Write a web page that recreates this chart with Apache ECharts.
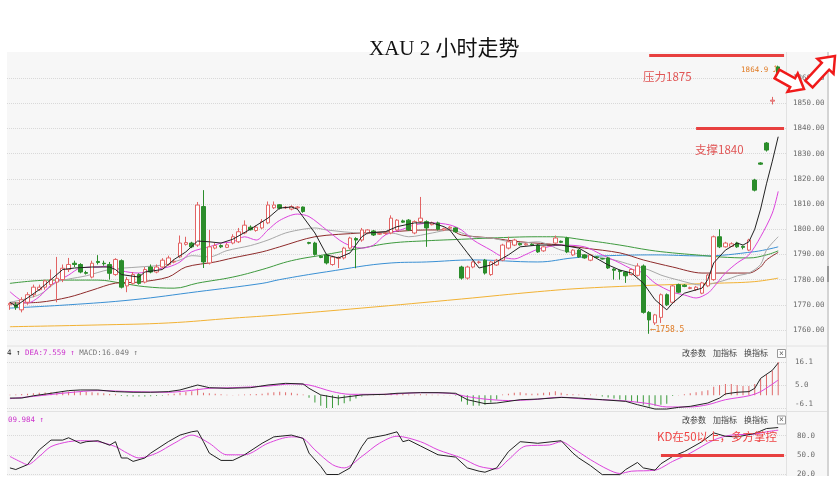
<!DOCTYPE html>
<html><head><meta charset="utf-8">
<script src="https://cdn.jsdelivr.net/npm/echarts@6/dist/echarts.min.js"></script>
<style>html,body{margin:0;padding:0;background:#fff}#c{width:840px;height:491px}</style>
</head><body><div id="c"></div>
<script>
// ---- DATA ----
const categories = Array.from({length: 133}, (_, i) => 'K' + (i + 1));
// [open, close, low, high]
const candles = [
[1770,1770.5,1768,1771],[1770,1769,1768,1771],[1768,1772,1767,1773],[1771,1774,1770,1775],[1774,1777,1773,1778],
[1776,1777,1775.5,1778],[1777,1779.5,1776,1780],[1778,1780,1777,1784],[1779,1780.5,1771,1789],[1780,1784.5,1779,1786],
[1784,1786,1783,1788.6],[1786.5,1786,1785,1787.5],[1786,1783,1782.5,1786.5],[1782.8,1782.5,1782,1783.5],[1781,1786.5,1780.5,1787.5],
[1787.2,1786.8,1786,1789.7],[1786.5,1786.3,1785.5,1787.5],[1786,1782.5,1780,1787],[1782,1788,1781.5,1788.5],[1787.5,1777,1776.5,1788],
[1777.5,1780,1775,1781],[1778.5,1782,1778,1783],[1782,1778.5,1778,1782.5],[1779,1784,1778.5,1785],[1785,1783,1782.5,1786],
[1783,1785,1782.5,1786],[1785,1787.7,1784.5,1788.5],[1786,1788.6,1785.5,1789.5],[1787,1787.3,1786.5,1788],[1789,1794.5,1788.5,1797.5],
[1794,1794.7,1793.5,1797],[1794.5,1793,1792.5,1795],[1793.7,1809.6,1793,1810.8],[1809,1787,1784.6,1815.5],[1786.6,1793,1786,1799.7],
[1792.5,1793.5,1792,1794.5],[1793.5,1793,1792.5,1794],[1792.8,1793.8,1792.5,1794.5],[1794.5,1797,1794,1798],[1795,1799,1794.5,1800.5],
[1798.5,1801.6,1798,1803.5],[1800.8,1799.8,1799.5,1801.5],[1799.5,1800.8,1799,1801.5],[1800.5,1803,1800,1804],[1802.5,1809.6,1802,1811],
[1808.5,1809.6,1808,1811],[1809.7,1808.3,1807.8,1810],[1808.5,1808.7,1808,1809.2],[1808,1809,1807.5,1809.5],[1808.5,1808.8,1808,1809.2],
[1808.8,1807,1806.5,1809],[1794.7,1794.4,1794,1795],[1794.5,1790,1789.5,1795],[1789.3,1788.8,1788.5,1789.6],[1789.8,1786.6,1786,1790.3],
[1786,1789,1785.5,1789.5],[1788.4,1788.8,1784.6,1789.2],[1788.6,1792.5,1788,1793],[1792.5,1796.5,1792,1797],[1796.3,1795.7,1784.5,1796.8],
[1795.7,1799.7,1795,1800.5],[1798.5,1799.7,1798,1800],[1799.3,1797.7,1797.3,1799.7],[1798,1798.3,1797.7,1798.8],[1798.3,1798.5,1797.8,1799],
[1798.5,1804.4,1798,1805.5],[1799.7,1803.6,1799.3,1804],[1803.3,1802.8,1802.5,1803.8],[1803.6,1799.7,1799.3,1804],[1798.5,1803,1798,1803.5],
[1803,1804.4,1802.5,1812.8],[1803,1800.5,1793,1803.5],[1801.8,1802.5,1801.5,1803],[1802.5,1800,1799.5,1803],[1799.7,1800.2,1799.4,1800.6],
[1800.4,1800.8,1800,1801.2],[1800.5,1799,1798.6,1800.8],[1785,1780.6,1780,1785.5],[1780.6,1785,1780,1785.5],[1785,1787,1784.5,1787.5],
[1786.8,1787,1786.3,1787.5],[1787.7,1782.6,1782,1788.2],[1782,1787,1781.5,1787.5],[1785.8,1787.7,1785.4,1788.2],[1787.7,1793.7,1787.3,1794.2],
[1792.5,1795,1792,1797],[1793.7,1795.7,1793.3,1796.2],[1794.3,1793.8,1793.5,1794.7],[1793.8,1794.2,1793.5,1794.6],[1794,1793.7,1793.4,1794.4],
[1793.7,1791,1790.6,1794.1],[1791.4,1793,1791,1793.4],[1793.5,1793.8,1793.2,1794.2],[1794.5,1796.5,1794.2,1797.5],[1795.2,1794.8,1794.5,1795.5],
[1796.5,1791,1790.5,1797],[1789.8,1791.7,1789.4,1792.1],[1791.7,1789,1788.6,1792.1],[1789.8,1788.6,1788.3,1790.1],[1787.7,1789.8,1787.3,1790.2],
[1789,1788.8,1788.5,1789.3],[1788.3,1788.2,1788,1788.6],[1788.6,1784.6,1784.2,1789],[1784.2,1783.7,1780,1784.5],[1783.6,1783.2,1780,1784],
[1783,1781.5,1778.7,1783.4],[1782,1784,1781.6,1784.4],[1781.7,1785.4,1781.2,1786.5],[1785.4,1767,1766.5,1786],[1767,1764,1758.5,1767.5],
[1762.8,1766,1762,1766.4],[1765,1774,1762.8,1774.5],[1774,1770,1769.5,1774.5],[1771,1777.5,1770.5,1778],[1778,1775,1774.6,1778.4],
[1777.8,1777.3,1777,1778.2],[1776.5,1776.8,1776.2,1777.2],[1776,1777,1775.5,1777.5],[1774.6,1778.7,1774.2,1779.1],[1777.5,1781.8,1777,1782.2],
[1780,1797,1779.5,1797.5],[1797,1793,1792.5,1800],[1793,1794.5,1792.7,1795],[1793.2,1794.2,1793,1794.8],[1794.5,1793,1792.6,1795],
[1793.2,1792.8,1792,1793.5],[1791.7,1795.7,1791.3,1796.2],[1819.5,1815.5,1815,1820],[1826.3,1825.8,1825.5,1826.6],[1834.2,1831.4,1830.8,1834.6],
[1850.8,1851.2,1849.5,1852.5],[1864.4,1862,1861.5,1864.9]
];
// moving averages: [candle index, price]
const ma5 = [[0,1771],[1,1769.5],[5,1776],[7,1780],[9,1784],[11,1784.6],[14,1785],[17,1785],[18,1784],[19,1782],[22,1781],[23,1783],[26,1784],[28,1788],[30,1791],[32,1795.3],[34,1795],[36,1794.5],[38,1796],[41,1800],[44,1804.4],[46,1808.4],[48,1808.8],[49,1808],[52,1798.5],[54,1789.8],[56,1788.6],[58,1790.6],[60,1797],[61,1798.5],[64,1799],[66,1801],[69,1802.5],[72,1802.5],[74,1801],[75,1799.7],[78,1790.6],[80,1784.6],[82,1785.8],[85,1789.8],[87,1793],[90,1793.7],[94,1793.7],[97,1792.5],[99,1789.8],[102,1785.8],[104,1783.8],[106,1782.6],[108,1778.6],[110,1772],[112,1768],[113,1770.7],[115,1774.6],[118,1776.6],[119,1780],[120,1786.6],[122,1791.7],[124,1794.5],[125,1793.7],[126,1795],[127,1800],[128,1808],[129,1818],[130,1827],[131,1836.7]];
const ma10 = [[0,1775.2],[3,1770.7],[5,1773.2],[7,1777.8],[10,1781.8],[12,1784.6],[15,1785],[17,1785.4],[19,1783.5],[22,1782.6],[24,1783.8],[27,1785],[29,1787],[31,1791],[34,1793],[36,1794.5],[38,1795],[40,1797],[42,1795.7],[44,1799.7],[46,1803.5],[49,1806],[51,1805],[54,1799.7],[57,1794.5],[60,1792.5],[62,1793.7],[64,1797.7],[67,1800],[69,1801.7],[72,1802.5],[75,1801.7],[77,1799.7],[79,1795.7],[82,1791.7],[84,1789],[86,1788.2],[88,1790],[90,1792],[94,1793.7],[98,1793],[101,1789.8],[104,1786.6],[106,1784.2],[108,1782.6],[110,1778.6],[113,1775],[115,1773.9],[117,1772.7],[119,1774.6],[120,1777],[122,1782.6],[124,1786.6],[126,1789.8],[128,1797],[130,1806.4],[131,1815]];
const ma20 = [[0,1771],[5,1774],[8,1779],[10,1780.2],[13,1781.5],[17,1784],[22,1785],[26,1785.8],[29,1787.8],[31,1789.5],[34,1789],[37,1791.5],[41,1793.5],[44,1795.7],[47,1798.5],[50,1800],[52,1800.5],[54,1799.7],[60,1798.5],[65,1798.5],[68,1797],[72,1798.5],[75,1799.7],[79,1797],[82,1796.5],[87,1794.5],[90,1795],[94,1791.7],[98,1789.8],[103,1787.8],[106,1785.8],[109,1783.8],[111,1781.8],[114,1779.8],[118,1777.8],[122,1779.8],[124,1781.5],[126,1782.6],[128,1786],[129,1791.7],[131,1797]];
const ma30 = [[0,1770.7],[5,1771],[10,1773],[14,1775.8],[18,1778.6],[22,1779],[27,1781],[30,1785],[35,1787],[38,1788.6],[43,1791],[46,1793],[52,1797],[60,1798.5],[65,1799],[71,1799.7],[75,1799.7],[77,1797.7],[82,1796.5],[87,1795],[94,1793.7],[98,1792.5],[104,1790.6],[108,1787.8],[113,1785],[118,1782.6],[126,1782.6],[128,1785],[129,1787.8],[131,1790.8]];
const ma60 = [[0,1778.5],[7,1779.8],[15,1779.8],[19,1778.6],[23,1777.2],[28,1776.6],[32,1778.6],[38,1781],[43,1784],[48,1787.5],[54,1790],[60,1792.5],[65,1794.5],[71,1795.4],[77,1796],[82,1796.5],[90,1797],[93,1797],[98,1795.7],[104,1793.7],[109,1791.7],[113,1790.6],[117,1789.8],[121,1789],[126,1788.6],[129,1789.8],[131,1791.4]];
const ma120 = [[0,1768.7],[10,1770],[21,1772],[32,1775.2],[43,1778.5],[46,1780],[54,1783.1],[65,1786.6],[71,1787],[79,1787.8],[90,1787],[96,1788.6],[101,1789.4],[110,1789.8],[118,1789.4],[127,1791.1],[131,1793]];
const ma250 = [[0,1761.3],[15,1762],[27,1762.8],[38,1764.7],[46,1766],[60,1768.7],[77,1772.3],[90,1775.2],[98,1776.6],[110,1777.8],[121,1778.6],[127,1779.2],[131,1780.6]];
// MACD
const macdBars = [0.3,0.4,0.6,0.8,1.0,1.2,1.4,1.5,1.7,1.8,1.9,2.0,1.8,1.7,1.5,1.3,1.0,0.7,0.5,-0.3,
-0.4,-0.5,-0.5,-0.5,-0.4,-0.3,-0.2,0.5,0.8,1.2,1.6,2.0,3.3,1.2,1.0,0.8,0.5,0.3,0.2,0.3,
0.4,0.5,0.6,0.8,1.2,1.5,1.8,1.5,1.2,0.8,0.4,-1.2,-3.5,-5.0,-6.2,-6.2,-4.8,-3.8,-2.9,-1.5,
-0.6,0.3,0.5,0.6,0.8,1.0,0.9,0.6,0.4,0.3,0.5,0.4,0.3,0.3,0.2,0.2,-0.2,-3.0,-4.5,-5.0,
-5.0,-4.5,-3.5,-2.0,0.4,0.8,1.2,1.5,1.0,0.8,0.9,1.2,1.5,2.0,1.2,0.6,0.5,0.4,0.3,0.4,
0.3,-0.5,-1.0,-1.5,-2.0,-2.5,-3.0,-3.5,-4.5,-5.5,-5.0,-4.5,-4.0,-0.3,0.2,0.5,1.0,1.5,2.0,2.5,
4.2,5.0,5.5,5.5,5.0,4.5,4.5,5.5,8.0,10.0,12.0,16.05];
const dif = [[0,-1.3],[2,-1.3],[4,-0.2],[7,1.0],[10,2.3],[12,2.6],[15,2.6],[18,1.8],[21,1.5],[24,1.5],[27,1.8],[29,2.6],[32,5.0],[34,3.7],[37,3.4],[41,3.7],[44,5.0],[47,5.8],[50,5.5],[51,3.4],[53,0.2],[56,-1.3],[57,-0.9],[60,0.2],[64,0.5],[66,1.0],[70,1.3],[73,1.3],[76,1.0],[78,-2.1],[81,-4],[83,-3.7],[87,-2.1],[90,-1.8],[94,-1.0],[97,-1.3],[101,-2.1],[105,-2.9],[107,-4.5],[110,-6.6],[112,-6.6],[114,-5.8],[116,-5.3],[119,-3.7],[121,-1.3],[122,0.7],[124,1.5],[126,1.8],[127,3.4],[128,8.2],[130,12.1],[131,15.6]];
const dea = [[0,-1.6],[4,-0.5],[10,1.3],[15,2.3],[21,1.8],[27,1.5],[30,2.1],[34,3.4],[38,3.7],[44,4.5],[48,5.5],[51,5.0],[55,1.8],[58,0.5],[64,0.5],[70,1.3],[75,1.0],[78,-0.6],[81,-1.8],[85,-2.5],[89,-2.1],[94,-0.9],[98,-1.8],[104,-2.5],[109,-4],[112,-5.6],[116,-5.6],[119,-4.5],[122,-2.1],[126,-0.2],[128,1.8],[131,7.4]];
// KD
const kLine = [[0,29.5],[1,27],[3,34.6],[5,57.7],[7,73],[9,73],[10,76.6],[12,68],[13,70.5],[15,72],[17,65],[18,70.5],[19,45],[20,45],[21,39.7],[23,45],[24,52.6],[27,70.5],[29,80.8],[31,86],[32,87.4],[33,70.5],[34,52.6],[36,41.2],[38,41.2],[40,50],[43,68],[45,78],[48,80.8],[50,75.6],[51,52.6],[53,32],[54,19.2],[56,19.2],[58,29.5],[60,62.8],[61,75.6],[64,80.8],[66,85.9],[67,70.5],[68,73],[70,63.8],[73,50],[76,46.4],[78,29.5],[80,24.4],[81,22.8],[83,29.5],[85,55],[87,70.5],[90,68],[94,72],[96,52.6],[97,45],[99,33],[101,19],[104,19],[105,27],[107,38],[108,29.5],[110,26],[111,36],[113,47.4],[115,55],[118,70.5],[120,84.3],[122,79],[124,78],[127,83.3],[129,91],[131,92.6]];
const dLine = [[0,47.4],[2,38.2],[3,34.6],[5,47.4],[7,62.8],[10,70.5],[12,72],[15,70.5],[18,62.8],[20,52.6],[22,45],[25,52.6],[28,68],[31,80.8],[34,68],[37,50],[40,50],[44,68],[48,78],[50,75.6],[52,57.7],[55,34.6],[57,29.5],[60,47.4],[63,68],[66,79],[70,70.5],[73,57.7],[77,45],[80,32],[83,28],[85,42.3],[88,63.8],[92,65.4],[94,70.5],[96,60.3],[99,42.3],[102,27],[104,20.8],[106,24.4],[110,26],[113,39.7],[116,52.6],[120,73],[123,80.8],[127,82.3],[129,85.9],[131,88.5]];
const lowPoint = [109, 1758.5];
const highPoint = [131, 1864.9];
const pressure = 1875, support = 1840, kdLevel = 50;

// ---- CHART ----
const chart = echarts.init(document.getElementById('c'), null, {renderer: 'canvas'});
const mono = 'DejaVu Sans Mono';
const cjk = 'Noto Sans CJK SC';
const UP = '#e26464', DOWN = '#2b8d2b', RED = '#e8403f';

function arrowPts(x0, y0, x1, y1, sw, hw, hl) {
  const dx = x1 - x0, dy = y1 - y0, L = Math.hypot(dx, dy), ux = dx / L, uy = dy / L, nx = -uy, ny = ux;
  const bx = x1 - ux * hl, by = y1 - uy * hl;
  return [[x0 + nx * sw, y0 + ny * sw], [bx + nx * sw, by + ny * sw], [bx + nx * hw, by + ny * hw], [x1, y1],
          [bx - nx * hw, by - ny * hw], [bx - nx * sw, by - ny * sw], [x0 - nx * sw, y0 - ny * sw]];
}
function ma(data, color, smooth) {
  return {type: 'line', data, xAxisIndex: 0, yAxisIndex: 0, symbol: 'none', smooth, silent: true,
    lineStyle: {width: 1, color}, z: 3};
}
const xa = i => ({type: 'category', data: categories, gridIndex: i, show: false, boundaryGap: true});
const labelStyle = {color: '#6a6a6a', fontFamily: mono, fontSize: 7.5};
const split = {show: true, lineStyle: {color: '#d9d9d9', type: 'dotted', width: 1}};

chart.setOption({
  animation: false,
  backgroundColor: '#ffffff',
  title: {text: 'XAU 2 小时走势', left: 364, top: 34,
    textStyle: {fontFamily: 'Liberation Serif, ' + cjk, fontSize: 21, fontWeight: 'normal', color: '#111'}},
  grid: [
    {left: 7, right: 53, top: 52.8, height: 302.4},
    {left: 7, right: 53, top: 362, height: 46},
    {left: 7, right: 53, top: 416.4, height: 57.6}
  ],
  xAxis: [xa(0), xa(1), xa(2)],
  yAxis: [
    {type: 'value', gridIndex: 0, position: 'right', min: 1750, max: 1870, interval: 10, scale: true,
     axisLine: {show: false}, axisTick: {show: false},
     axisLabel: Object.assign({margin: 6, showMinLabel: false, showMaxLabel: false, formatter: v => v.toFixed(2)}, labelStyle),
     splitLine: Object.assign({showMinLine: false, showMaxLine: false}, split)},
    {type: 'value', gridIndex: 1, position: 'right', min: -6.1, max: 16.1, interval: 11.1,
     axisLine: {show: false}, axisTick: {show: false},
     axisLabel: Object.assign({margin: 8, formatter: v => v < 0 ? '{lo|' + v.toFixed(1) + '}' : v.toFixed(1),
       rich: {lo: {padding: [0, 0, 8, 0], color: '#6a6a6a', fontFamily: mono, fontSize: 7.5}}}, labelStyle),
     splitLine: split},
    {type: 'value', gridIndex: 2, position: 'right', min: 20, max: 110, interval: 30,
     axisLine: {show: false}, axisTick: {show: false},
     axisLabel: Object.assign({margin: 10, showMaxLabel: false, formatter: v => v.toFixed(1)}, labelStyle),
     splitLine: Object.assign({showMaxLine: false}, split)}
  ],
  series: [
    ma(ma250, '#f2b234', 0.4),
    ma(ma120, '#3a90d4', 0.4),
    ma(ma60, '#3e9a3e', 0.4),
    ma(ma30, '#8e2b2b', 0.3),
    ma(ma20, '#a8a8a8', 0.3),
    ma(ma10, '#dd44dd', 0.3),
    {type: 'candlestick', data: candles, xAxisIndex: 0, yAxisIndex: 0, barWidth: 4, z: 4,
     itemStyle: {color: '#ffffff', color0: DOWN, borderColor: UP, borderColor0: DOWN, borderWidth: 1},
     markLine: {silent: true, symbol: ['none', 'none'], label: {show: false},
       lineStyle: {color: RED, width: 3, type: 'solid'},
       data: [[{coord: [109, 1869]}, {coord: [132, 1869]}],
              [{coord: [117, support]}, {coord: [132, support]}]]},
     markPoint: {silent: true, symbol: 'circle', symbolSize: 1, itemStyle: {color: 'rgba(0,0,0,0)'},
       data: [
         {coord: lowPoint, label: {show: true, position: 'right', distance: 1, offset: [0, -4],
           formatter: '⟵' + lowPoint[1].toFixed(1), color: '#e07a22', fontFamily: mono, fontSize: 8}},
         {coord: highPoint, label: {show: true, position: 'left', distance: 1, offset: [0, 4],
           formatter: highPoint[1].toFixed(1) + ' ⤴', color: '#e07a22', fontFamily: mono, fontSize: 7.5}}
       ]}},
    Object.assign(ma(ma5, '#222222', false), {z: 5}),
    {type: 'bar', data: macdBars, xAxisIndex: 1, yAxisIndex: 1, barWidth: 1, silent: true,
     itemStyle: {color: p => p.value >= 0 ? '#e06a6a' : '#3a9a3a'}},
    {type: 'line', data: dif, xAxisIndex: 1, yAxisIndex: 1, symbol: 'none', clip: false, silent: true,
     lineStyle: {width: 1, color: '#222'}, z: 4},
    {type: 'line', data: dea, xAxisIndex: 1, yAxisIndex: 1, symbol: 'none', clip: false, smooth: 0.3, silent: true,
     lineStyle: {width: 1, color: '#dd44dd'}, z: 3},
    {type: 'line', data: dLine, xAxisIndex: 2, yAxisIndex: 2, symbol: 'none', clip: false, smooth: 0.3, silent: true,
     lineStyle: {width: 1, color: '#dd44dd'}, z: 3},
    {type: 'line', data: kLine, xAxisIndex: 2, yAxisIndex: 2, symbol: 'none', clip: false, silent: true,
     lineStyle: {width: 1, color: '#222'}, z: 4,
     markLine: {silent: true, symbol: ['none', 'none'], label: {show: false},
       lineStyle: {color: RED, width: 3, type: 'solid'},
       data: [[{coord: [111, kdLevel]}, {coord: [132, kdLevel]}]]}}
  ],
  graphic: [
    {type: 'rect', z: -100, shape: {x: 7, y: 52, width: 821, height: 424}, style: {fill: '#f7f7f7'}},
    {type: 'line', z: 1, shape: {x1: 7, y1: 346, x2: 828, y2: 346}, style: {stroke: '#e2e2e2', lineWidth: 1}},
    {type: 'line', z: 1, shape: {x1: 7, y1: 411.5, x2: 828, y2: 411.5}, style: {stroke: '#e2e2e2', lineWidth: 1}},
    {type: 'line', z: 1, shape: {x1: 786.5, y1: 52, x2: 786.5, y2: 476}, style: {stroke: '#e2e2e2', lineWidth: 1}},
    {type: 'line', z: 1, shape: {x1: 828, y1: 52, x2: 828, y2: 476}, style: {stroke: '#d4d4d4', lineWidth: 2}},
    {type: 'rect', z: 1, shape: {x: 827, y: 266, width: 2, height: 16}, style: {fill: '#999'}},
    // annotations
    {type: 'text', z: 20, style: {x: 643, y: 77, text: '压力' + pressure, fill: '#e05555', font: '11.5px ' + cjk, textVerticalAlign: 'middle'}},
    {type: 'text', z: 20, style: {x: 695, y: 150, text: '支撑' + support, fill: '#e05555', font: '11.5px ' + cjk, textVerticalAlign: 'middle'}},
    {type: 'text', z: 20, style: {x: 657, y: 437, text: 'KD在' + kdLevel + '以上，多方掌控', fill: '#ee4444', font: '11.5px ' + cjk, textVerticalAlign: 'middle'}},
    // panel headers
    {type: 'text', z: 20, style: {x: 7, y: 353, textVerticalAlign: 'middle', font: '7.5px ' + mono,
      text: '{k|4 ↑} {m|DEA:7.559 ↑} {g|MACD:16.049 ↑}',
      rich: {k: {fill: '#222', font: '7.5px ' + mono}, m: {fill: '#cc33cc', font: '7.5px ' + mono}, g: {fill: '#777', font: '7.5px ' + mono}}}},
    {type: 'text', z: 20, style: {x: 8, y: 420, textVerticalAlign: 'middle', text: '09.984 ↑', fill: '#cc33cc', font: '7.5px ' + mono}},
    {type: 'text', z: 20, style: {x: 682, y: 353, textVerticalAlign: 'middle', text: '改参数', fill: '#444', font: '8px ' + cjk}},
    {type: 'text', z: 20, style: {x: 713, y: 353, textVerticalAlign: 'middle', text: '加指标', fill: '#444', font: '8px ' + cjk}},
    {type: 'text', z: 20, style: {x: 744, y: 353, textVerticalAlign: 'middle', text: '换指标', fill: '#444', font: '8px ' + cjk}},
    {type: 'rect', z: 20, shape: {x: 777.5, y: 349.5, width: 8, height: 8}, style: {fill: '#fff', stroke: '#999', lineWidth: 1}},
    {type: 'text', z: 21, style: {x: 781.5, y: 353.5, textAlign: 'center', textVerticalAlign: 'middle', text: '×', fill: '#666', font: '8px ' + mono}},
    {type: 'text', z: 20, style: {x: 682, y: 419.5, textVerticalAlign: 'middle', text: '改参数', fill: '#444', font: '8px ' + cjk}},
    {type: 'text', z: 20, style: {x: 713, y: 419.5, textVerticalAlign: 'middle', text: '加指标', fill: '#444', font: '8px ' + cjk}},
    {type: 'text', z: 20, style: {x: 744, y: 419.5, textVerticalAlign: 'middle', text: '换指标', fill: '#444', font: '8px ' + cjk}},
    {type: 'rect', z: 20, shape: {x: 777.5, y: 416, width: 8, height: 8}, style: {fill: '#fff', stroke: '#999', lineWidth: 1}},
    {type: 'text', z: 21, style: {x: 781.5, y: 420, textAlign: 'center', textVerticalAlign: 'middle', text: '×', fill: '#666', font: '8px ' + mono}},
    // red outline arrows
    {type: 'polygon', z: 30, shape: {points: arrowPts(777, 74, 804, 89, 5, 10.5, 13)}, style: {fill: '#fff', stroke: '#f01a1a', lineWidth: 2.5}},
    {type: 'polygon', z: 30, shape: {points: arrowPts(809, 84, 835, 56, 5, 11, 14)}, style: {fill: '#fff', stroke: '#f01a1a', lineWidth: 2.5}}
  ]
});
</script></body></html>
